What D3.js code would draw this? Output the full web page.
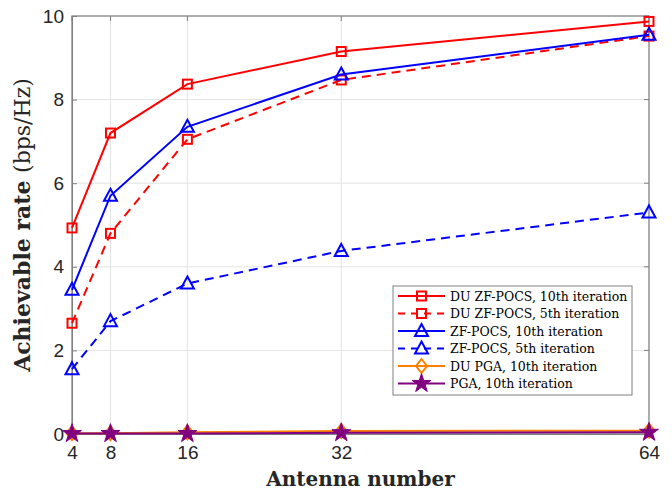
<!DOCTYPE html>
<html>
<head>
<meta charset="utf-8">
<script src="https://cdn.jsdelivr.net/npm/d3@7"></script>
<style>
  body{margin:0;background:#fff;}
  .serif{font-family:"DejaVu Serif","Liberation Serif","Times New Roman",Times,serif;}
  .sans{font-family:"Liberation Sans",Arial,Helvetica,sans-serif;}
</style>
</head>
<body>
<div class="canvas"></div>
<script>
// data
const antennas=[4,8,16,32,64];
const duZf10=[4.93,7.2,8.37,9.15,9.87];
const duZf5=[2.65,4.8,7.05,8.47,9.52];
const zf10=[3.45,5.7,7.35,8.6,9.55];
const zf5=[1.55,2.7,3.6,4.38,5.3];
const duPga10=[0.02,0.02,0.04,0.07,0.08];
const pga10=[0.01,0.01,0.01,0.03,0.04];
const yTicks=[0,2,4,6,8,10];

const series=[
  {name:'DU ZF-POCS, 10th iteration',vals:duZf10,color:'#ff0000',dash:null,mark:'square'},
  {name:'DU ZF-POCS, 5th iteration',vals:duZf5,color:'#ff0000',dash:'9,6',mark:'square'},
  {name:'ZF-POCS, 10th iteration',vals:zf10,color:'#0000ff',dash:null,mark:'triangle'},
  {name:'ZF-POCS, 5th iteration',vals:zf5,color:'#0000ff',dash:'9,6',mark:'triangle'},
  {name:'DU PGA, 10th iteration',vals:duPga10,color:'#ff8000',dash:null,mark:'diamond'},
  {name:'PGA, 10th iteration',vals:pga10,color:'#800080',dash:null,mark:'star'}
];

const W=672,H=493;
const m={left:72,right:23,top:16,bottom:59};

const svg=d3.select('.canvas').append('svg')
  .attr('width',W).attr('height',H);

const x=d3.scaleLinear().domain([4,64]).range([m.left,W-m.right]);
const y=d3.scaleLinear().domain([0,10]).range([H-m.bottom,m.top]);

// grid
const grid=svg.append('g');
grid.selectAll('.vg').data(antennas).enter().append('line')
  .attr('x1',d=>x(d)).attr('x2',d=>x(d))
  .attr('y1',y(0)).attr('y2',y(10))
  .attr('stroke','#e3e3e3').attr('stroke-width',1);
grid.selectAll('.hg').data(yTicks).enter().append('line')
  .attr('x1',x(4)).attr('x2',x(64))
  .attr('y1',d=>y(d)).attr('y2',d=>y(d))
  .attr('stroke','#e3e3e3').attr('stroke-width',1);

// box
svg.append('rect')
  .attr('x',x(4)).attr('y',y(10))
  .attr('width',x(64)-x(4)).attr('height',y(0)-y(10))
  .attr('fill','none').attr('stroke','#808080').attr('stroke-width',1.2);

// axes
const xAxis=svg.append('g')
  .attr('transform',`translate(0,${y(0)})`)
  .call(d3.axisBottom(x).tickValues(antennas).tickSize(-5).tickPadding(12));
const yAxis=svg.append('g')
  .attr('transform',`translate(${x(4)},0)`)
  .call(d3.axisLeft(y).tickValues(yTicks).tickSize(-5).tickPadding(8));
[xAxis,yAxis].forEach(a=>{
  a.attr('font-family',null).attr('font-size',null).attr('class','sans');
  a.select('.domain').attr('stroke','#808080');
  a.selectAll('.tick line').attr('stroke','#808080');
  a.selectAll('text').attr('font-size',19).attr('fill','#262626');
});
// right side ticks on box
svg.append('g').selectAll('line').data(yTicks).enter().append('line')
  .attr('x1',x(64)).attr('x2',x(64)-5)
  .attr('y1',d=>y(d)).attr('y2',d=>y(d)).attr('stroke','#808080');
svg.append('g').selectAll('line').data(antennas).enter().append('line')
  .attr('x1',d=>x(d)).attr('x2',d=>x(d))
  .attr('y1',y(10)).attr('y2',y(10)+5).attr('stroke','#808080');

// labels
svg.append('text')
  .attr('class','serif')
  .attr('x',(x(4)+x(64))/2).attr('y',486)
  .attr('text-anchor','middle')
  .attr('font-size',20).attr('font-weight','bold')
  .attr('fill','#262626')
  .text('Antenna number');
const yl=svg.append('text')
  .attr('class','serif')
  .attr('transform',`translate(30,${(y(0)+y(10))/2}) rotate(-90)`)
  .attr('text-anchor','middle')
  .attr('font-size',22)
  .attr('fill','#262626');
yl.append('tspan').attr('font-weight','bold').text('Achievable rate ');
yl.append('tspan').text('(bps/Hz)');

// markers
function marker(g,type,color,cx,cy){
  if(type==='square'){
    g.append('rect').attr('x',cx-4.5).attr('y',cy-4.5).attr('width',9).attr('height',9)
      .attr('fill','none').attr('stroke',color).attr('stroke-width',2);
  } else if(type==='triangle'){
    g.append('path').attr('d',`M${cx},${cy-7}L${cx+6.5},${cy+5}L${cx-6.5},${cy+5}Z`)
      .attr('fill','none').attr('stroke',color).attr('stroke-width',2);
  } else if(type==='diamond'){
    g.append('path').attr('d',`M${cx},${cy-7}L${cx+5.5},${cy}L${cx},${cy+7}L${cx-5.5},${cy}Z`)
      .attr('fill','none').attr('stroke',color).attr('stroke-width',2);
  } else {
    g.append('path').attr('d',d3.symbol().type(d3.symbolStar).size(110)())
      .attr('transform',`translate(${cx},${cy})`)
      .attr('fill',color).attr('stroke',color).attr('stroke-width',1);
  }
}

const line=d3.line().x((d,i)=>x(antennas[i])).y(d=>y(d));
const plot=svg.append('g');
series.forEach(s=>{
  const g=plot.append('g');
  g.append('path').attr('d',line(s.vals))
    .attr('fill','none').attr('stroke',s.color).attr('stroke-width',2)
    .attr('stroke-dasharray',s.dash);
  s.vals.forEach((v,i)=>marker(g,s.mark,s.color,x(antennas[i]),y(v)));
});

// legend
const lg=svg.append('g').attr('transform','translate(393,286)');
lg.append('rect').attr('width',239).attr('height',109)
  .attr('fill','#fff').attr('stroke','#808080').attr('stroke-width',1);
series.forEach((s,i)=>{
  const yy=10+i*17.5;
  lg.append('line').attr('x1',5).attr('x2',52).attr('y1',yy).attr('y2',yy)
    .attr('stroke',s.color).attr('stroke-width',2).attr('stroke-dasharray',s.dash?'7,6':null);
  marker(lg,s.mark,s.color,28.5,yy);
  lg.append('text').attr('class','serif').attr('x',57).attr('y',yy+4.5)
    .attr('font-size',12.5)
    .attr('fill','#000').text(s.name);
});
</script>
</body>
</html>
